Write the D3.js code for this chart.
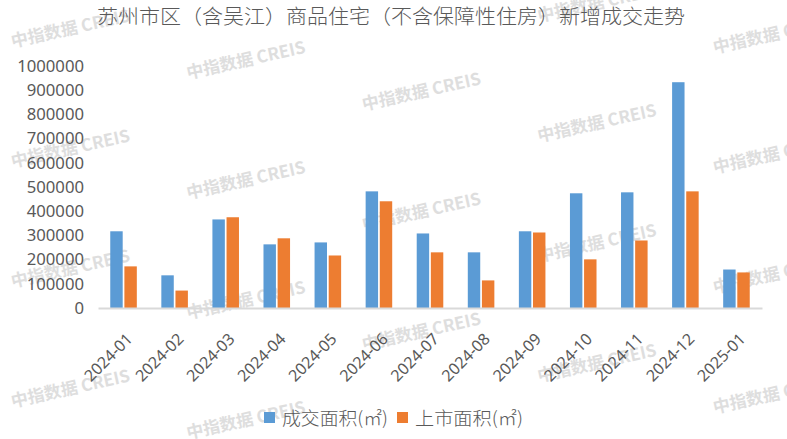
<!DOCTYPE html>
<html>
<head>
<meta charset="utf-8">
<script src="https://cdn.jsdelivr.net/npm/d3@7"></script>
<style>
body { margin:0; background:#fff; }
svg { display:block; }
</style>
</head>
<body>
<svg></svg>
<script>
// data
var months = ["2024-01","2024-02","2024-03","2024-04","2024-05","2024-06","2024-07",
              "2024-08","2024-09","2024-10","2024-11","2024-12","2025-01"]
var dealArea = [317000,135000,366000,263000,271000,482000,308000,230000,317000,474000,478000,933000,159000]
var listArea = [172000,72000,375000,288000,217000,441000,230000,114000,312000,201000,279000,482000,147000]
var seriesNames = ["成交面积(㎡)","上市面积(㎡)"]
var seriesColors = ["#5B9BD5","#ED7D31"]
var yTicks = [0,100000,200000,300000,400000,500000,600000,700000,800000,900000,1000000]
var title = "苏州市区（含吴江）商品住宅（不含保障性住房）新增成交走势"

var screen = {width:787,height:439}
var margins = {top:66,left:98,right:25,bottom:131}

var svg = d3.select("svg")
    .attr("width",screen.width)
    .attr("height",screen.height)

var textGray = "#595959"
var fontCJK = "'Noto Sans CJK SC','Noto Sans',sans-serif"

// watermark pattern in the background
var drawWatermarks = function()
{
    var wm = svg.append("g").attr("id","watermarks")
    for(var col=0; col<5; col++)
    {
        for(var row=-1; row<4; row++)
        {
            var cx = 70 + 175.5*col
            var cy = 27 + 31.5*col + 120*row
            if(cy < -10 || cy > 440) continue
            wm.append("text")
              .attr("transform","translate("+cx+","+cy+") rotate(-12.5)")
              .attr("text-anchor","middle")
              .attr("dominant-baseline","central")
              .style("font-family",fontCJK)
              .style("font-weight","bold")
              .style("font-size","17px")
              .style("fill","#dedede")
              .text("中指数据 CREIS")
        }
    }
}

var drawChart = function()
{
    var rows = months.map(function(m,i){ return {month:m, values:[dealArea[i],listArea[i]]} })

    var x0 = d3.scaleBand()
               .domain(months)
               .range([margins.left, screen.width-margins.right])
               .paddingInner(0.48)
               .paddingOuter(0.24)
    var x1 = d3.scaleBand()
               .domain([0,1])
               .range([0,x0.bandwidth()])
               .paddingInner(0.12)
    var yScale = d3.scaleLinear()
                   .domain([0,1000000])
                   .range([screen.height-margins.bottom, margins.top])

    // y axis labels, no line
    var yAxis = d3.axisLeft(yScale)
                  .tickValues(yTicks)
                  .tickSize(0)
                  .tickPadding(14)
                  .tickFormat(d3.format("d"))
    var yg = svg.append("g")
       .attr("transform","translate("+margins.left+",0)")
       .call(yAxis)
    yg.select(".domain").remove()
    yg.selectAll("text")
      .style("font-family","'Noto Sans',sans-serif")
      .style("font-size","16.7px")
      .style("fill",textGray)

    // bars
    var groups = svg.append("g")
        .selectAll("g")
        .data(rows)
        .enter()
        .append("g")
        .attr("transform",function(d){ return "translate("+x0(d.month)+",0)" })
    groups.selectAll("rect")
        .data(function(d){ return d.values })
        .enter()
        .append("rect")
        .attr("x",function(v,i){ return x1(i) })
        .attr("width",x1.bandwidth())
        .attr("y",function(v){ return yScale(v) })
        .attr("height",function(v){ return yScale(0)-yScale(v) })
        .attr("fill",function(v,i){ return seriesColors[i] })

    // x axis
    var xAxis = d3.axisBottom(x0).tickSize(0).tickSizeOuter(0)
    var xg = svg.append("g")
       .attr("transform","translate(0,"+yScale(0)+")")
       .call(xAxis)
    xg.select(".domain")
      .attr("stroke","#d9d9d9")
      .attr("stroke-width",2)
    xg.selectAll("text")
      .attr("y",null)
      .attr("dy",null)
      .attr("text-anchor","end")
      .attr("transform","translate(10,32) rotate(-45)")
      .style("font-family","'Noto Sans',sans-serif")
      .style("font-size","16px")
      .style("fill",textGray)

    // title
    svg.append("text")
       .attr("x",391)
       .attr("y",24)
       .attr("text-anchor","middle")
       .attr("textLength",588)
       .attr("lengthAdjust","spacingAndGlyphs")
       .style("font-family",fontCJK)
       .style("font-weight","300")
       .style("font-size","20px")
       .style("fill",textGray)
       .text(title)

    // legend
    var legendX = [264,397]
    var legendLen = [106,108]
    var legend = svg.append("g")
        .selectAll("g")
        .data(seriesNames)
        .enter()
        .append("g")
        .attr("transform",function(d,i){ return "translate("+legendX[i]+",412)" })
    legend.append("rect")
        .attr("width",11)
        .attr("height",11)
        .attr("fill",function(d,i){ return seriesColors[i] })
    legend.append("text")
        .attr("x",18)
        .attr("y",12.5)
        .attr("textLength",function(d,i){ return legendLen[i] })
        .attr("lengthAdjust","spacingAndGlyphs")
        .style("font-family",fontCJK)
        .style("font-weight","300")
        .style("font-size","18px")
        .style("fill",textGray)
        .text(function(d){ return d })
}

drawWatermarks()
drawChart()
</script>
</body>
</html>
